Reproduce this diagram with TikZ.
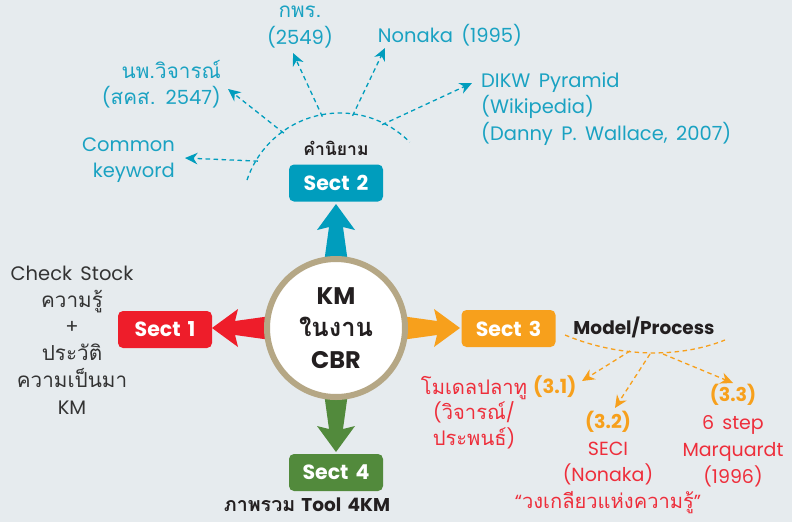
\documentclass[tikz,border=0pt]{standalone}
\usepackage{fontspec}
\setmainfont{Poppins}[WordSpace=1.6]
\newfontfamily\thai[Script=Thai, Scale=1.06]{Loma}
\usetikzlibrary{arrows.meta,calc,backgrounds}

\definecolor{bgc}{HTML}{E6EBEE}
\definecolor{kmblue}{HTML}{009DBD}
\definecolor{txblue}{HTML}{1AA2C2}
\definecolor{kmred}{HTML}{EE1D2A}
\definecolor{txred}{HTML}{EE2E3B}
\definecolor{kmorange}{HTML}{F7A01C}
\definecolor{kmgreen}{HTML}{528A3C}
\definecolor{ring}{HTML}{B5A785}
\definecolor{ink}{HTML}{231F20}
\definecolor{graytx}{HTML}{333333}

\newcommand\sz[2]{\fontsize{#1}{#2}\selectfont}

% tapered block arrow leaving the hub along direction #2 (canvas angle)
\newcommand\hubarrow[2]{%
  \fill[#1, shift={(hub.center)}, rotate=#2]
    (60,-12.7) -- (101,-7) -- (98,-19) -- (124,0) -- (98,19) -- (101,7) -- (60,12.7) -- cycle;}

\tikzset{
  sectbox/.style={rounded corners=5pt, minimum width=94pt, minimum height=37pt,
    inner sep=0pt, text=white, font=\sz{20.5}{22}\bfseries},
  dashline/.style={line width=1.3pt, dash pattern=on 4.5pt off 3.5pt},
  dasharrow/.style={dashline, -{Stealth[length=12.5pt, width=11.5pt, inset=4pt]}},
  bluetx/.style={text=txblue, font=\sz{19.5}{26.5}, inner sep=0pt},
  redtx/.style={text=txred, font=\sz{19}{26.5}, inner sep=0pt, align=center},
  heading/.style={text=ink, font=\sz{18.5}{20}\bfseries, inner sep=0pt},
}

\begin{document}
\begin{tikzpicture}[x=1pt, y=-1pt]
\useasboundingbox (0,0) rectangle (792,522);

% central hub
\node[circle, draw=ring, line width=6pt, fill=white, minimum size=138pt,
      inner sep=0pt, align=center, text=ink, font=\sz{24}{32}\bfseries]
  (hub) at (336,328) {KM\\{\thai\bfseries ในงาน}\\CBR};

% section boxes
\node[sectbox, fill=kmred]    (s1) at (165,329.5) {Sect 1};
\node[sectbox, fill=kmblue]   (s2) at (336,183)   {Sect 2};
\node[sectbox, fill=kmorange] (s3) at (508.5,328.5) {Sect 3};
\node[sectbox, fill=kmgreen]  (s4) at (336,472.5) {Sect 4};

\begin{pgfonlayer}{background}
  \fill[bgc] (0,0) rectangle (792,522);
  \hubarrow{kmorange}{0}
  \hubarrow{kmblue}{90}
  \hubarrow{kmred}{180}
  \hubarrow{kmgreen}{270}
\end{pgfonlayer}

% ---------- Sect 1 ----------
\node[text=graytx, font=\sz{19.5}{26.8}, align=center, inner sep=0pt] (s1note) at (72,340)
  {Check Stock\\{\thai ความรู้}\\+\\{\thai ประวัติ}\\{\thai ความเป็นมา}\\KM};

% ---------- Sect 2 ----------
\node[heading, font=\sz{16.5}{20}\bfseries] (def) at (336,148) {\thai\bfseries คำนิยาม};
\coordinate (arcc) at (340,211);
\draw[kmblue, dashline] plot[domain=198.4:315.4, samples=60]
  ({340+98*cos(\x)}, {211+98*sin(\x)});

\node[bluetx, align=right, anchor=east] (ck) at (175,160) {Common\\keyword};
\node[bluetx, align=right, anchor=east] (vj) at (221,84)
  {{\thai นพ.วิจารณ์}\\({\thai สคส.} 2547)};
\node[bluetx, align=center] (kp) at (300,27) {{\thai กพร.}\\(2549)};
\node[bluetx] (nk) at (450,35) {Nonaka (1995)};
\node[bluetx, align=left, anchor=west] (dk) at (481,109)
  {DIKW Pyramid\\(Wikipedia)\\(Danny P. Wallace, 2007)};

\coordinate (a1) at ($(arcc)+(211.3:96)$);
\coordinate (a2) at ($(arcc)+(234.2:96)$);
\coordinate (a3) at ($(arcc)+(259.4:96)$);
\coordinate (a4) at ($(arcc)+(277.5:96)$);
\coordinate (a5) at ($(arcc)+(296:96)$);
\coordinate (t1) at (185,158);
\coordinate (t2) at (228,89);
\coordinate (t3) at (293,53);
\coordinate (t4) at (385,48);
\coordinate (t5) at (472,83);
\foreach \i in {1,...,5}{\draw[kmblue, dasharrow] (a\i) -- (t\i);}

% ---------- Sect 3 ----------
\node[heading] (mp) at (644,327) {Model/Process};
\coordinate (m0) at (565,335);
\coordinate (m9) at (725,340);
\draw[kmorange, dashline] (m0) .. controls (620,358) and (680,358) .. (m9);
\coordinate (o1) at (630,351);
\coordinate (o2) at (650,354);
\coordinate (o3) at (663,354);
\coordinate (p1) at (582,381);
\coordinate (p2) at (615,408);
\coordinate (p3) at (733,383);
\foreach \i in {1,2,3}{\draw[kmorange, dasharrow] (o\i) -- (p\i);}

\node[redtx, font=\sz{19}{25.5}] (m1) at (474,412.5)
  {{\thai โมเดลปลาทู}\\({\thai วิจารณ์}/\\{\thai ประพนธ์})};
\node[text=kmorange, font=\sz{19.5}{22}\bfseries, anchor=west, inner sep=0pt] (m1n) at (533,387) {(3.1)};
\node[redtx] (m2) at (608,462.5)
  {{\color{kmorange}\bfseries (3.2)}\\SECI\\(Nonaka)\\“{\thai วงเกลียวแห่งความรู้}”};
\node[redtx, font=\sz{19}{27.3}] (m3) at (733,436)
  {{\color{kmorange}\bfseries (3.3)}\\6 step\\Marquardt\\(1996)};

% ---------- Sect 4 ----------
\node[heading] (ov) at (307,505) {{\thai\bfseries ภาพรวม} Tool 4KM};
\end{tikzpicture}
\end{document}
